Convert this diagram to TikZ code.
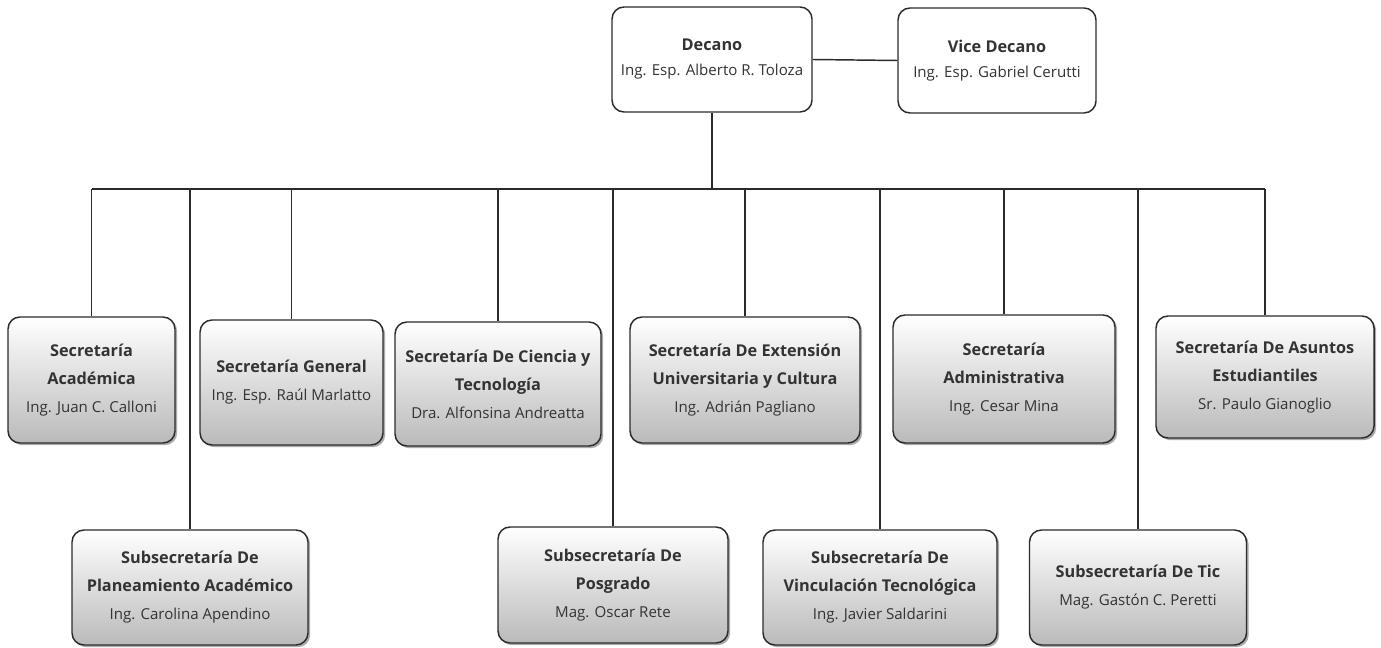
\documentclass[tikz,border=0pt]{standalone}
\usepackage{fontspec}
\setmainfont{Open Sans}
\usetikzlibrary{shadows}
\definecolor{edgegray}{HTML}{2B2B2B}
\definecolor{namegray}{HTML}{333333}
\newcommand\ttl[1]{{\fontsize{12.2}{21}\selectfont\bfseries #1}}
\begin{document}
\begin{tikzpicture}
[
x=0.75pt, y=-0.75pt,
topbox/.style={rectangle, rounded corners=9pt, draw=edgegray, line width=1.1pt, fill=white, align=center, inner sep=0pt, text=namegray, font=\fontsize{11.3}{18.75}\selectfont},
secbox/.style={rectangle, rounded corners=9pt, draw=edgegray, line width=1.1pt, top color=white, bottom color=black!27, drop shadow={shadow xshift=1.6pt, shadow yshift=-1.6pt, fill=black!55, opacity=0.6}, align=center, inner sep=0pt, text=namegray, font=\fontsize{11.3}{21}\selectfont},
tline/.style={draw=edgegray, line width=1.1pt}
]
\useasboundingbox (0,0) rectangle (1381,648);
%Nodes
\node[topbox, minimum width=150pt, minimum height=78.75pt] at(712,59.5)		(dec) {\ttl{Decano}\\Ing. Esp. Alberto R. Toloza};
\node[topbox, minimum width=148.5pt, minimum height=78.75pt] at(997,60.5)		(vice) {\ttl{Vice Decano}\\Ing. Esp. Gabriel Cerutti};
\node[secbox, minimum width=125.25pt, minimum height=94.5pt] at(91.5,380)		(acad) {\ttl{Secretaría}\\\ttl{Académica}\\Ing. Juan C. Calloni};
\node[secbox, minimum width=137.25pt, minimum height=93.75pt] at(291.5,382.5)	(gral) {\ttl{Secretaría General}\\Ing. Esp. Raúl Marlatto};
\node[secbox, minimum width=154.5pt, minimum height=93pt] at(498,384)		(cien) {\ttl{Secretaría De Ciencia y}\\\ttl{Tecnología}\\Dra. Alfonsina Andreatta};
\node[secbox, minimum width=172.5pt, minimum height=94.5pt] at(745,380)		(exte) {\ttl{Secretaría De Extensión}\\\ttl{Universitaria y Cultura}\\Ing. Adrián Pagliano};
\node[secbox, minimum width=166.5pt, minimum height=96pt] at(1004,379)		(admi) {\ttl{Secretaría}\\\ttl{Administrativa}\\Ing. Cesar Mina};
\node[secbox, minimum width=163.5pt, minimum height=91.5pt] at(1265,377)		(estu) {\ttl{Secretaría De Asuntos}\\\ttl{Estudiantiles}\\Sr. Paulo Gianoglio};
\node[secbox, minimum width=177pt, minimum height=86.25pt] at(190,587.5)		(plan) {\ttl{Subsecretaría De}\\\ttl{Planeamiento Académico}\\Ing. Carolina Apendino};
\node[secbox, minimum width=172.5pt, minimum height=87pt] at(613,585)		(posg) {\ttl{Subsecretaría De}\\\ttl{Posgrado}\\Mag. Oscar Rete};
\node[secbox, minimum width=175.5pt, minimum height=86.25pt] at(880,587.5)		(vinc) {\ttl{Subsecretaría De}\\\ttl{Vinculación Tecnológica}\\Ing. Javier Saldarini};
\node[secbox, minimum width=162.75pt, minimum height=86.25pt] at(1138,587.5)		(tic) {\ttl{Subsecretaría De Tic}\\Mag. Gastón C. Peretti};
\coordinate	(bus) at(712,189);
%Lines
\draw[tline] (dec.east) -- (vice.west);
\draw[tline] (dec.south) -- (bus);
\draw[tline] (acad.north |- bus) -- (estu.north |- bus);
\foreach \n in {acad,plan,gral,cien,posg,exte,vinc,admi,tic,estu}
	\draw[tline] (\n.north) -- (\n.north |- bus);
\end{tikzpicture}
\end{document}
